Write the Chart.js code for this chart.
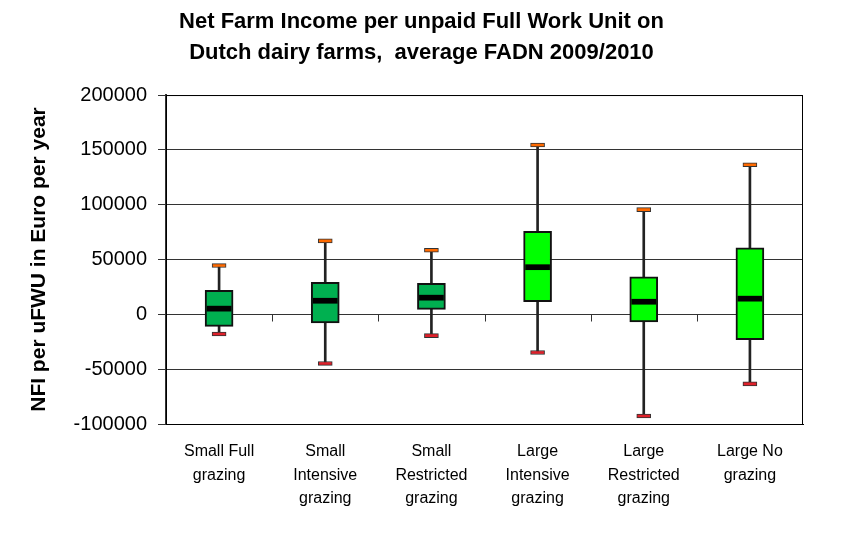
<!DOCTYPE html>
<html>
<head>
<meta charset="utf-8">
<script src="https://cdn.jsdelivr.net/npm/chart.js@4.4.1/dist/chart.umd.min.js"></script>
<style>
  body { margin: 0; background: #fff; }
  #box-chart { display: block; }
</style>
</head>
<body>
<canvas id="box-chart" width="843" height="539"></canvas>
<script>
// categories (multi-line labels as in the original)
var categories = [
    ["Small Full", "grazing"],
    ["Small", "Intensive", "grazing"],
    ["Small", "Restricted", "grazing"],
    ["Large", "Intensive", "grazing"],
    ["Large", "Restricted", "grazing"],
    ["Large No", "grazing"]
];
// box plot values, NFI per uFWU (Euro per year)
var minVals = [-17900, -44800, -19400, -34800, -92700, -63400];
var q1Vals  = [-10900,  -7900,   4500,  11500,  -7000, -23000];
var medVals = [  5200,  12400,  15200,  43000,  11500,  14300];
var q3Vals  = [ 21800,  29100,  28200,  75700,  34300,  60600];
var maxVals = [ 44500,  67000,  58500, 154500,  95500, 136400];
var yTicks  = [-100000, -50000, 0, 50000, 100000, 150000, 200000];

var boxColors = ["#00B050", "#00B050", "#00B050", "#00FF00", "#00FF00", "#00FF00"];

// thickness of the cap / median marks, in value units
var CAP_HALF = 1800;
var MED_HALF = 2300;

function span(vals, half) {
    return vals.map(function(v){ return [v - half, v + half]; });
}

var fontFam = "'Liberation Sans', Arial, sans-serif";

var frame = {
    id: 'frame',
    afterDatasetsDraw: function(chart) {
        var a = chart.chartArea, ctx = chart.ctx;
        var x = chart.scales.x, y = chart.scales.y;
        ctx.save();
        ctx.strokeStyle = '#000';
        ctx.lineWidth = 1;
        ctx.strokeRect(a.left + 0.5, a.top + 0.5, a.right - a.left - 1, a.bottom - a.top);
        // little category ticks on the zero line
        var y0 = Math.round(y.getPixelForValue(0)) + 0.5;
        ctx.strokeStyle = '#333';
        ctx.beginPath();
        for (var i = 1; i < categories.length; i++) {
            var xb = Math.round((x.getPixelForValue(i - 1) + x.getPixelForValue(i)) / 2) + 0.5;
            ctx.moveTo(xb, y0);
            ctx.lineTo(xb, y0 + 7);
        }
        ctx.stroke();
        ctx.restore();
    }
};

new Chart(document.getElementById("box-chart"), {
    type: 'bar',
    data: {
        labels: categories,
        datasets: [
            {   // whiskers
                data: minVals.map(function(v, i){ return [v, maxVals[i]]; }),
                backgroundColor: '#222',
                barThickness: 2,
                grouped: false,
                order: 4
            },
            {   // boxes
                data: q1Vals.map(function(v, i){ return [v, q3Vals[i]]; }),
                backgroundColor: boxColors,
                borderColor: '#111',
                borderWidth: 2,
                borderSkipped: false,
                barThickness: 28,
                grouped: false,
                order: 3
            },
            {   // max caps
                data: span(maxVals, CAP_HALF),
                backgroundColor: '#FF6A00',
                borderColor: '#333',
                borderWidth: 1,
                borderSkipped: false,
                barThickness: 14,
                grouped: false,
                order: 2
            },
            {   // min caps
                data: span(minVals, CAP_HALF),
                backgroundColor: '#E0202A',
                borderColor: '#333',
                borderWidth: 1,
                borderSkipped: false,
                barThickness: 14,
                grouped: false,
                order: 2
            },
            {   // medians
                data: span(medVals, MED_HALF),
                backgroundColor: '#000',
                barThickness: 24,
                grouped: false,
                order: 1
            }
        ]
    },
    options: {
        responsive: false,
        animation: false,
        devicePixelRatio: 1,
        layout: { padding: { left: 40, right: 40, top: 0, bottom: 0 } },
        plugins: {
            legend: { display: false },
            tooltip: { enabled: false },
            title: {
                display: true,
                text: ['Net Farm Income per unpaid Full Work Unit on', 'Dutch dairy farms,  average FADN 2009/2010'],
                color: '#000',
                font: { family: fontFam, size: 22, weight: 'bold', lineHeight: 1.41 },
                padding: { top: 6, bottom: 27 }
            }
        },
        scales: {
            x: {
                grid: { display: false, drawTicks: false },
                border: { display: true, color: '#000' },
                ticks: {
                    color: '#000',
                    padding: 16,
                    font: { family: fontFam, size: 16, lineHeight: 1.47 }
                },
                afterFit: function(s) { s.height = 115; }
            },
            y: {
                min: -100000,
                max: 200000,
                afterBuildTicks: function(s) {
                    s.ticks = yTicks.map(function(v){ return { value: v }; });
                },
                grid: { color: '#333', lineWidth: 1, tickLength: 8 },
                border: { display: true, color: '#333', width: 2 },
                ticks: {
                    color: '#000',
                    padding: 11,
                    font: { family: fontFam, size: 20 },
                    callback: function(v) { return String(v); }
                },
                title: {
                    display: true,
                    text: 'NFI per uFWU in Euro per year',
                    color: '#000',
                    font: { family: fontFam, size: 21, weight: 'bold', lineHeight: 1.2 },
                    padding: { top: -13, bottom: 0 }
                },
                afterFit: function(s) { s.width = 126; }
            }
        }
    },
    plugins: [frame]
});
</script>
</body>
</html>
